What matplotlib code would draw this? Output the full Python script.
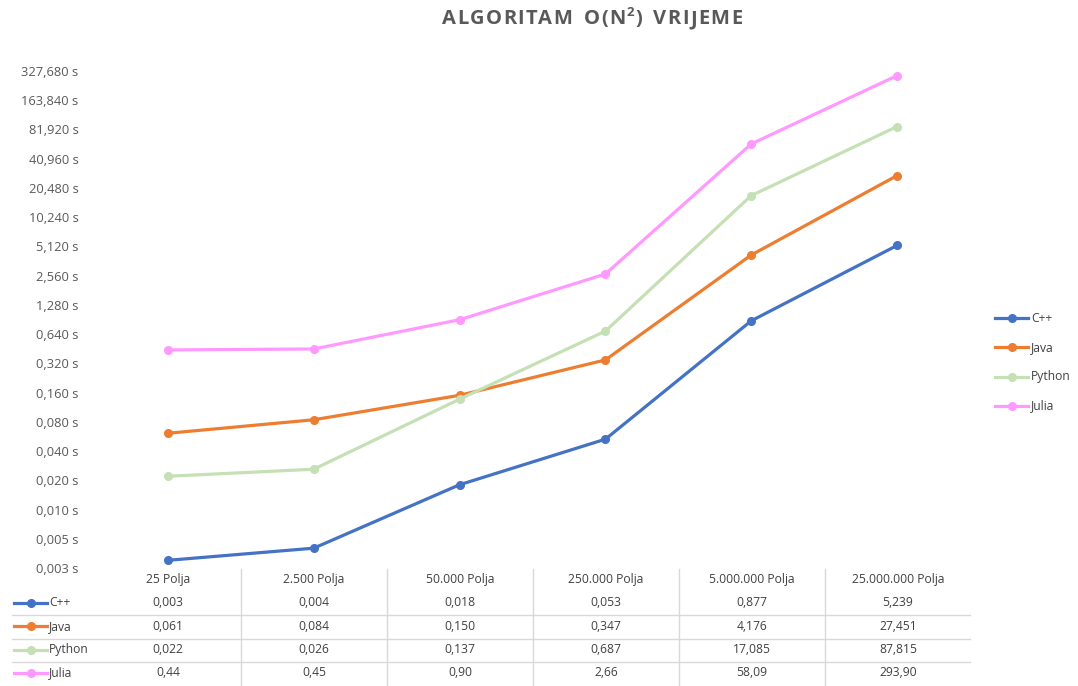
import numpy as np
import matplotlib
matplotlib.use('Agg')
import matplotlib.pyplot as plt
from matplotlib.lines import Line2D

categories = ['25 Polja', '2.500 Polja', '50.000 Polja', '250.000 Polja',
              '5.000.000 Polja', '25.000.000 Polja']
series = ['C++', 'Java', 'Python', 'Julia']
cpp = [0.003, 0.004, 0.018, 0.053, 0.877, 5.239]
java = [0.061, 0.084, 0.150, 0.347, 4.176, 27.451]
python = [0.022, 0.026, 0.137, 0.687, 17.085, 87.815]
julia = [0.44, 0.45, 0.90, 2.66, 58.09, 293.90]
table_text = [
    ['0,003', '0,004', '0,018', '0,053', '0,877', '5,239'],
    ['0,061', '0,084', '0,150', '0,347', '4,176', '27,451'],
    ['0,022', '0,026', '0,137', '0,687', '17,085', '87,815'],
    ['0,44', '0,45', '0,90', '2,66', '58,09', '293,90'],
]
colors = ['#4472C4', '#ED7D31', '#C5E0B4', '#FF99FF']
yticks = 0.0025 * 2.0 ** np.arange(18)

plt.rcParams['font.family'] = ['Open Sans', 'DejaVu Sans']
W, H = 1078, 686
fig = plt.figure(figsize=(W / 100, H / 100), dpi=100)

def fx(px):
    return px / W

def fy(py):
    return 1 - py / H

ax = fig.add_axes([fx(95), fy(568), fx(970) - fx(95), fy(71) - fy(568)])
x = np.arange(len(categories))
for vals, c, name in zip([cpp, java, python, julia], colors, series):
    ax.plot(x, vals, color=c, lw=2.3, marker='o', ms=5.5, label=name,
            solid_capstyle='round')

ax.set_yscale('log', base=2)
ax.set_ylim(yticks[0], yticks[-1])
ax.set_xlim(-0.5, len(categories) - 0.5)
ax.set_yticks(yticks)
ax.set_yticklabels([f"{v:.3f}".replace('.', ',') + ' s' for v in yticks])
ax.minorticks_off()
ax.tick_params(axis='y', length=0, labelsize=9.3, labelcolor='#595959', pad=12)
ax.set_xticks([])
for s in ax.spines.values():
    s.set_visible(False)

# letter-spaced title, drawn char by char
title_parts = [('ALGORITAM O(N', False), ('2', True), (') VRIJEME', False)]
renderer = fig.canvas.get_renderer()
chars = []
for txt, sup in title_parts:
    for ch in txt:
        chars.append((ch, sup))
spacing = 1.3
widths = []
for ch, sup in chars:
    t = fig.text(0, 0, ch if ch != ' ' else 'I', fontsize=9.5 if sup else 14.5,
                 fontweight='bold')
    w = t.get_window_extent(renderer).width
    if ch == ' ':
        w = w * 1.3
    widths.append(w)
    t.remove()
total = sum(widths) + spacing * (len(chars) - 1)
xpos = 592 - total / 2
for (ch, sup), w in zip(chars, widths):
    if ch != ' ':
        fig.text(fx(xpos), fy(12.5 if sup else 19), ch, ha='left', va='center',
                 fontsize=9.5 if sup else 14.5, fontweight='bold', color='#595959')
    xpos += w + spacing

# data table below the axes
tc = '#404040'
for i, cat in enumerate(categories):
    xp = 95 + 146 * (i + 0.5)
    fig.text(fx(xp), fy(579), cat, ha='center', va='center', fontsize=8.7, color=tc)
    for r in range(len(series)):
        fig.text(fx(xp), fy(603 + 23.3 * r), table_text[r][i], ha='center',
                 va='center', fontsize=8.7, color=tc)
for r, (name, c) in enumerate(zip(series, colors)):
    yy = fy(603 + 23.3 * r)
    fig.add_artist(Line2D([fx(14), fx(47)], [yy, yy], color=c, lw=2.3))
    fig.add_artist(Line2D([fx(31)], [yy], color=c, marker='o', ms=5.5))
    fig.text(fx(49), yy, name, ha='left', va='center', fontsize=8.7, color=tc)
for yl in [615, 638.5, 662]:
    fig.add_artist(Line2D([fx(12), fx(970)], [fy(yl), fy(yl)], color='#D9D9D9', lw=1))
for i in range(1, len(categories)):
    xb = 95 + 146 * i
    fig.add_artist(Line2D([fx(xb), fx(xb)], [fy(569), fy(686)], color='#D9D9D9', lw=1))

# legend at right
for r, (name, c) in enumerate(zip(series, colors)):
    yy = fy(318 + 29.3 * r)
    fig.add_artist(Line2D([fx(995), fx(1028)], [yy, yy], color=c, lw=2.3))
    fig.add_artist(Line2D([fx(1012)], [yy], color=c, marker='o', ms=5.5))
    fig.text(fx(1031), yy, name, ha='left', va='center', fontsize=8.7, color=tc)

fig.savefig('out.png', dpi=100)
